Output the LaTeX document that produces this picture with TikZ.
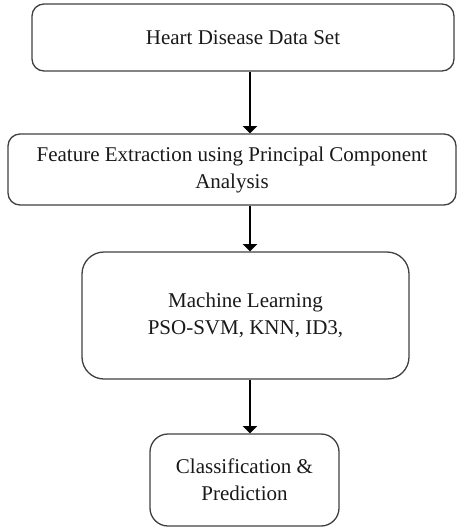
\documentclass[tikz,border=0pt]{standalone}
\usepackage{fontspec}
\setmainfont{Liberation Serif}
\usetikzlibrary{arrows}

\begin{document}
\begin{tikzpicture}[x=1pt,y=-1pt,
	stage/.style={line width=1.3pt, draw=black!75, inner sep=0pt, align=center, text=black!90, font=\fontsize{21}{27}\selectfont},
	flow/.style={line width=1.6pt, -triangle 90}]
\useasboundingbox (0,0) rectangle (457,527);
	\node[stage, rounded corners=12pt, minimum width=422pt, minimum height=67pt] (data) at (243,37.5) [draw] {Heart Disease Data Set};
	\node[stage, rounded corners=12pt, minimum width=448pt, minimum height=71pt] (pca) at (232,169.5) [draw] {Feature Extraction using Principal Component\\Analysis};
	\node[stage, rounded corners=22pt, minimum width=327pt, minimum height=127pt] (ml) at (245.5,315.5) [draw] {Machine Learning\\PSO-SVM, KNN, ID3,};
	\node[stage, rounded corners=18pt, minimum width=189pt, minimum height=92pt] (cls) at (244.5,480) [draw] {Classification \&\\Prediction};
	\coordinate (spine) at (250,0);
	\draw[flow] (data.south -| spine) -- (pca.north -| spine);
	\draw[flow] (pca.south -| spine) -- (ml.north -| spine);
	\draw[flow] (ml.south -| spine) -- (cls.north -| spine);
\end{tikzpicture}
\end{document}
